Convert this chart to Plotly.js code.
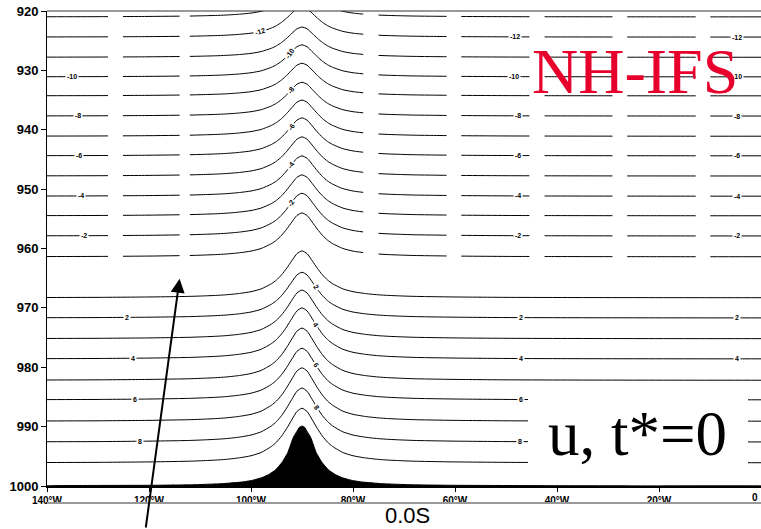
<!DOCTYPE html>
<html><head><meta charset="utf-8">
<script src="https://cdn.plot.ly/plotly-3.0.1.min.js"></script>
<style>html,body{margin:0;padding:0;background:#fff}#chart{width:761px;height:529px}</style>
</head><body><div id="chart"></div>
<script>
// ---- data ----
const levels = [-13,-12,-11,-10,-9,-8,-7,-6,-5,-4,-3,-2,-1,1,2,3,4,5,6,7,8,9];
// pressure (hPa) of each contour far from the ridge
const farP  = [921.0,924.4,927.8,931.1,934.3,937.7,941.1,944.4,947.8,951.2,954.5,957.9,961.4,968.3,971.7,975.2,978.6,982.2,985.5,989.1,992.6,996.1];
// pressure (hPa) of each contour at the ridge (90W)
const peakP = [916.0,919.3,922.7,925.7,928.8,932.0,935.0,938.0,941.2,944.4,947.6,950.7,954.0,960.4,964.0,967.0,970.0,973.4,976.8,980.1,983.5,986.9];
const ridgeLon = -90;
// distance from the ridge (deg) and fraction of the ridge displacement
const bumpOffset = [0,1,2,3,4,5,6,8,10,12,13,15,17,20,22,24,30,40,50,60,70,80,90];
const bumpFrac   = [1,0.94,0.79,0.63,0.49,0.38,0.30,0.19,0.13,0.096,0.083,0.063,0.050,0.037,0.030,0.026,0.017,0.009,0.006,0.004,0.003,0.002,0.002];
// mountain outline (surface pressure)
const mtnLon = [-140,-140,-119.4,-111.6,-105.7,-101.8,-99.8,-97.8,-96.5,-95.2,-93.9,-92.8,-91.7,-91.0,-90.5,-90,-89.5,-89.0,-88.3,-87.2,-86.1,-84.8,-83.5,-82.2,-80.2,-78.2,-74.3,-68.4,-60.6,-40,-20,0,0];
const mtnP   = [1000,999.97,999.88,999.8,999.61,999.33,999.06,998.57,998.06,997.3,996.0,994.4,991.8,990.8,990.1,989.9,990.1,990.8,991.8,994.4,996.0,997.3,998.06,998.57,999.06,999.33,999.61,999.8,999.88,999.95,999.98,999.99,1000];
const xTickVals = [-140,-120,-100,-80,-60,-40,-20,0];
const xTickText = ['140°W','120°W','100°W','80°W','60°W','40°W','20°W',''];
const yTickVals = [920,930,940,950,960,970,980,990,1000];

// contour-label placements: [lon, level, angle]
const labelSpots = [
 [-135.1,-10,0],[-133.9,-8,0],[-133.7,-6,0],[-133.3,-4,0],[-132.7,-2,0],
 [-124.3,2,0],[-123.1,4,0],[-122.7,6,0],[-121.8,8,0],
 [-98.2,-12,-18],[-92.4,-10,-55],[-92.2,-8,-55],[-92.2,-6,-55],[-92.2,-4,-55],[-92.2,-2,-55],
 [-87.3,2,55],[-87.3,4,55],[-87.3,6,55],[-87.1,8,55],
 [-48.2,-12,0],[-48.4,-10,0],[-47.6,-8,0],[-47.6,-6,0],[-47.6,-4,0],[-47.6,-2,0],
 [-47.1,2,0],[-47.1,4,0],[-47.1,6,0],[-47.3,8,0],
 [-4.7,-12,0],[-4.7,-10,0],[-4.7,-8,0],[-4.7,-6,0],[-4.7,-4,0],[-4.7,-2,0],[-4.7,2,0],[-4.7,4,0]
];

// ---- build ----
function linePts(i, lo, hi){
  const xs=[], ys=[], e=1e-9;
  for(let k=bumpOffset.length-1;k>=0;k--){
    const lon=ridgeLon-bumpOffset[k];
    if(lon>=-140-e && lon>=lo-e && lon<=hi+e){xs.push(lon); ys.push(farP[i]-(farP[i]-peakP[i])*bumpFrac[k]);}
  }
  for(let k=1;k<bumpOffset.length;k++){
    const lon=ridgeLon+bumpOffset[k];
    if(lon<=0+e && lon>=lo-e && lon<=hi+e){xs.push(lon); ys.push(farP[i]-(farP[i]-peakP[i])*bumpFrac[k]);}
  }
  return [xs,ys];
}
function pAt(i, lon){
  const d=Math.abs(lon-ridgeLon);
  let f=bumpFrac[bumpFrac.length-1];
  for(let k=0;k<bumpOffset.length-1;k++){
    if(d>=bumpOffset[k] && d<=bumpOffset[k+1]){
      const t=(d-bumpOffset[k])/(bumpOffset[k+1]-bumpOffset[k]);
      f=bumpFrac[k]+(bumpFrac[k+1]-bumpFrac[k])*t; break;
    }
  }
  return farP[i]-(farP[i]-peakP[i])*f;
}
const traces=[];
function addLine(xy, dash){
  traces.push({type:'scatter',mode:'lines',x:xy[0],y:xy[1],
    line:{color:'#000',width:1,dash:dash,shape:'spline',smoothing:0.6},hoverinfo:'skip',showlegend:false});
}
levels.forEach((lv,i)=>{
  if(lv<0){
    addLine(linePts(i,-140,-114),'61px,15px');
    addLine(linePts(i,-112,-78),'solid');
    addLine(linePts(i,-75,0),'68px,15px');
  } else {
    addLine(linePts(i,-140,0),'solid');
  }
});
traces.push({type:'scatter',mode:'lines',x:mtnLon,y:mtnP,fill:'toself',fillcolor:'#000',
  line:{color:'#000',width:1,shape:'spline',smoothing:0.3},hoverinfo:'skip',showlegend:false});

const annotations=[];
labelSpots.forEach(s=>{
  const i=levels.indexOf(s[1]);
  annotations.push({x:s[0],y:pAt(i,s[0]),xref:'x',yref:'y',text:String(s[1]),showarrow:false,
    textangle:s[2],bgcolor:'#fff',borderpad:1,
    font:{family:'Liberation Sans, Arial, sans-serif',size:7,color:'#000',weight:'bold'}});
});
// arrow pointing at the (missing) zero contour
annotations.push({x:-114,y:965.1,xref:'x',yref:'y',text:'',showarrow:true,arrowhead:2,arrowsize:1.4,
  arrowwidth:2,arrowcolor:'#000',ax:-34,ay:256,standoff:0});
annotations.push({x:0.823,y:0.872,xref:'paper',yref:'paper',text:'NH-IFS',showarrow:false,
  xanchor:'center',yanchor:'middle',font:{family:'Liberation Serif, Times New Roman, serif',size:64,color:'#e8002d'}});
annotations.push({x:0.8277,y:0.1105,xref:'paper',yref:'paper',text:'u, t*=0',showarrow:false,
  xanchor:'center',yanchor:'middle',font:{family:'Liberation Serif, Times New Roman, serif',size:63,color:'#000'}});
annotations.push({x:0.5056,y:-0.063,xref:'paper',yref:'paper',text:'0.0S',showarrow:false,
  xanchor:'center',yanchor:'middle',font:{family:'Liberation Sans, Arial, sans-serif',size:22,color:'#000'}});
// right-most tick label "0" (sits at the window edge)
annotations.push({x:1,y:-0.0232,xref:'paper',yref:'paper',text:'0',showarrow:false,
  xanchor:'right',yanchor:'middle',xshift:-1,
  font:{family:'Liberation Sans, Arial, sans-serif',size:10,color:'#000',weight:'bold'}});

const layout={
  width:761,height:529,margin:{l:47,r:0,t:11,b:43},
  paper_bgcolor:'#fff',plot_bgcolor:'#fff',showlegend:false,hovermode:false,
  xaxis:{range:[-140,0],tickvals:xTickVals,ticktext:xTickText,ticks:'outside',ticklen:4,tickwidth:1,
    tickcolor:'#000',showline:true,linecolor:'#000',linewidth:2,showgrid:false,zeroline:false,
    tickfont:{family:'Liberation Sans, Arial, sans-serif',size:10,color:'#000',weight:'bold'}},
  yaxis:{range:[1000,920],tickvals:yTickVals,ticks:'outside',ticklen:5,tickwidth:1,tickcolor:'#000',
    showline:true,linecolor:'#000',linewidth:1,showgrid:false,zeroline:false,
    tickfont:{family:'Liberation Sans, Arial, sans-serif',size:13,color:'#000',weight:'bold'}},
  shapes:[
    {type:'line',xref:'paper',yref:'paper',x0:0,x1:1,y0:1,y1:1,line:{color:'#333',width:1}},
    {type:'line',xref:'paper',yref:'paper',x0:0,x1:1.01,y0:-0.0358,y1:-0.0358,line:{color:'#999',width:2}},
    {type:'rect',xref:'paper',yref:'paper',x0:0.6737,x1:0.9818,y0:0.0042,y1:0.2063,fillcolor:'#fff',line:{width:0},layer:'above'}
  ],
  annotations:annotations
};
Plotly.newPlot('chart',traces,layout,{staticPlot:true,displayModeBar:false});
</script></body></html>
